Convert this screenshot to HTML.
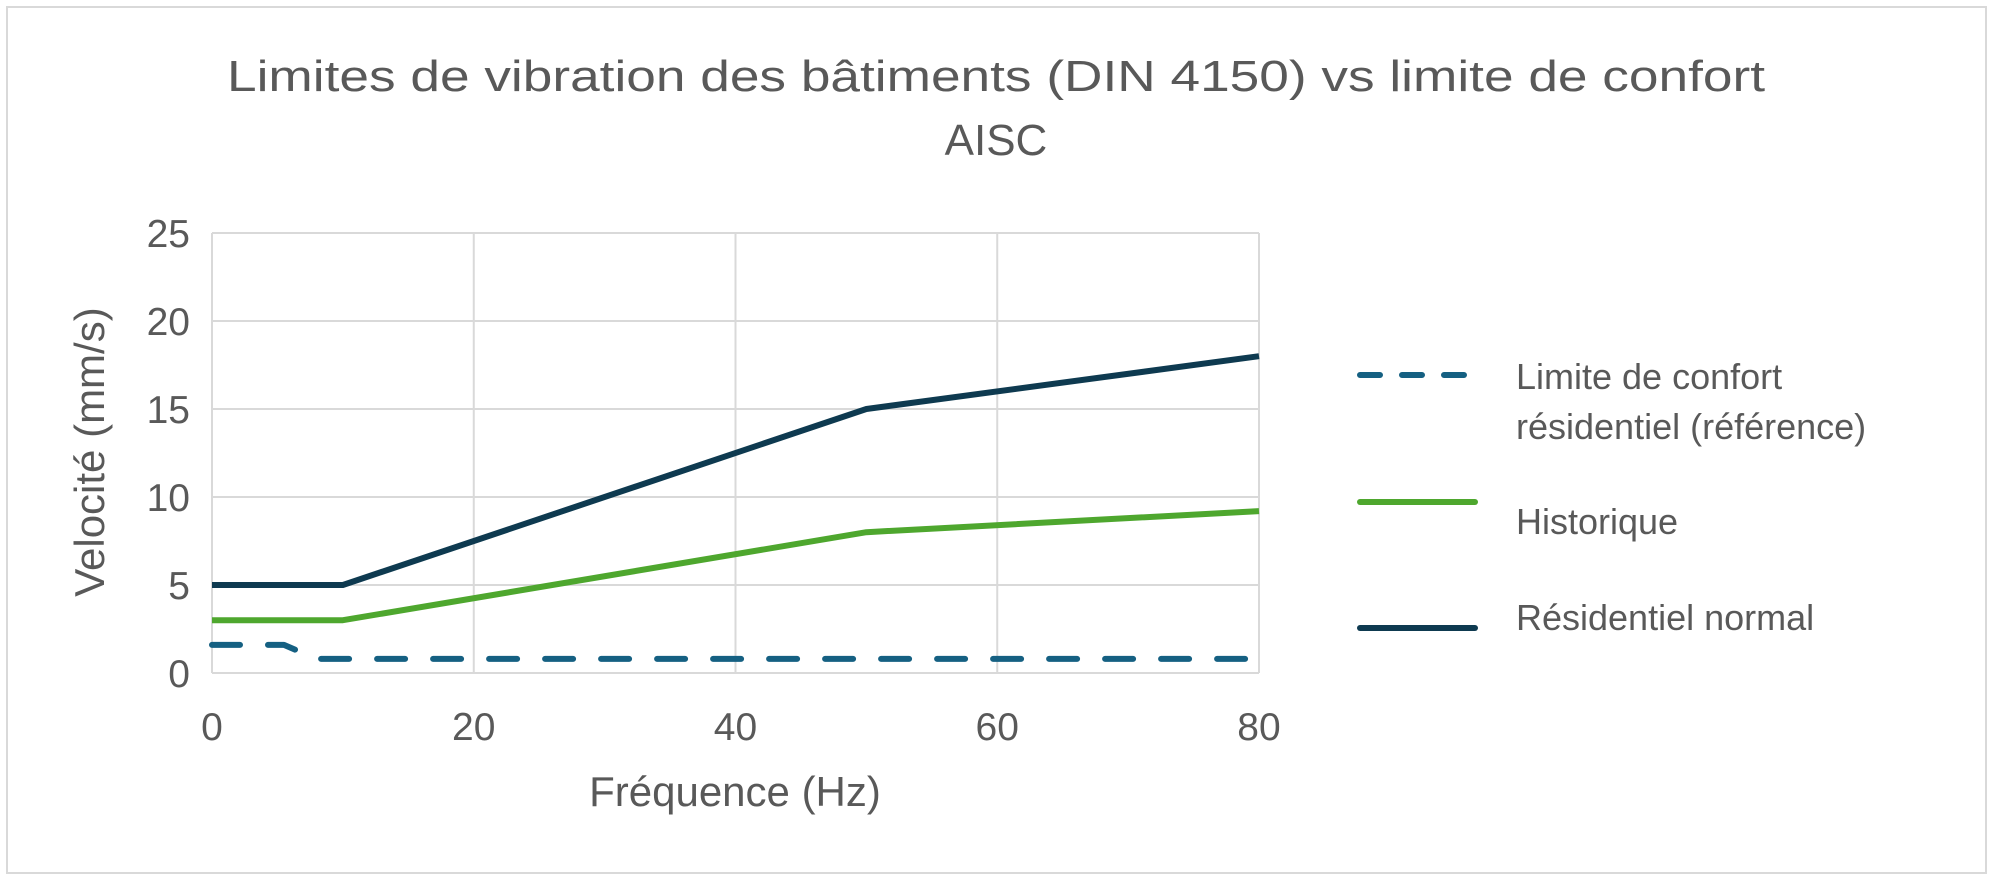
<!DOCTYPE html>
<html><head><meta charset="utf-8">
<style>
html,body{margin:0;padding:0;background:#fff;}
svg{display:block;font-family:"Liberation Sans",sans-serif;}
</style></head>
<body>
<svg id="chart" width="1993" height="880" viewBox="0 0 1993 880" xmlns="http://www.w3.org/2000/svg">
<rect x="7" y="7" width="1979" height="866" fill="#fff" stroke="#d9d9d9" stroke-width="2"/>
<text x="996" y="91" text-anchor="middle" font-size="44" fill="#595959" textLength="1538" lengthAdjust="spacingAndGlyphs">Limites de vibration des bâtiments (DIN 4150) vs limite de confort</text>
<text x="996" y="155" text-anchor="middle" font-size="44" fill="#595959">AISC</text>
<g id="grid"></g>
<g id="series"></g>
<g id="ticks"></g>
<text transform="translate(104,452) rotate(-90)" text-anchor="middle" font-size="42" fill="#595959">Velocité (mm/s)</text>
<text x="735" y="806" text-anchor="middle" font-size="42" fill="#595959">Fréquence (Hz)</text>
<g>
  <g>
    <line x1="1360" y1="375" x2="1475" y2="375" stroke="#156082" stroke-width="6" stroke-linecap="round" stroke-dasharray="20,22"/>
    <text x="1516" y="389" font-size="36" fill="#595959">Limite de confort</text>
    <text x="1516" y="439" font-size="36" fill="#595959">résidentiel (référence)</text>
  </g>
  <g>
    <line x1="1360" y1="502" x2="1475" y2="502" stroke="#4ea72e" stroke-width="6" stroke-linecap="round"/>
    <text x="1516" y="534" font-size="36" fill="#595959">Historique</text>
  </g>
  <g>
    <line x1="1360" y1="628" x2="1475" y2="628" stroke="#0e3a50" stroke-width="6" stroke-linecap="round"/>
    <text x="1516" y="630" font-size="36" fill="#595959">Résidentiel normal</text>
  </g>
</g>
</svg>
<script>
const xTicks = [0, 20, 40, 60, 80];
const yTicks = [0, 5, 10, 15, 20, 25];
const confortX = [0, 5.5, 8, 80];
const confortY = [1.6, 1.6, 0.8, 0.8];
const historiqueX = [0, 10, 50, 80];
const historiqueY = [3, 3, 8, 9.2];
const residentielX = [0, 10, 50, 80];
const residentielY = [5, 5, 15, 18];

const NS = "http://www.w3.org/2000/svg";
const L = 212, R = 1259, T = 233, B = 673;
const xs = v => L + (v - 0) / 80 * (R - L);
const ys = v => B - (v - 0) / 25 * (B - T);
function mk(tag, attrs, parent) {
  const e = document.createElementNS(NS, tag);
  for (const k in attrs) e.setAttribute(k, attrs[k]);
  parent.appendChild(e);
  return e;
}
const grid = document.getElementById('grid');
const ticks = document.getElementById('ticks');
const series = document.getElementById('series');
yTicks.forEach(v => {
  const g = mk('line', {x1: L, x2: R, y1: ys(v), y2: ys(v), stroke: '#d9d9d9', 'stroke-width': 2}, grid);
  
  
  const t = mk('text', {x: 190, y: ys(v) + 14, 'text-anchor': 'end', 'font-size': 39, fill: '#595959'}, ticks);
  t.textContent = v;
  
  
});
xTicks.forEach(v => {
  const g = mk('line', {x1: xs(v), x2: xs(v), y1: T, y2: B, stroke: '#d9d9d9', 'stroke-width': 2}, grid);
  
  
  const t = mk('text', {x: xs(v), y: 740, 'text-anchor': 'middle', 'font-size': 39, fill: '#595959'}, ticks);
  t.textContent = v;
  
  
});
function line(xsArr, ysArr, color, dash, name) {
  const pts = xsArr.map((x, i) => xs(x) + ',' + ys(ysArr[i])).join(' ');
  const attrs = {points: pts, fill: 'none', stroke: color, 'stroke-width': 6, 'stroke-linejoin': 'round'};
  if (dash) { attrs['stroke-dasharray'] = '28,28'; attrs['stroke-linecap'] = 'round'; }
  const p = mk('polyline', attrs, series);
  
  
}
line(historiqueX, historiqueY, '#4ea72e', false, 'series-historique');
line(residentielX, residentielY, '#0e3a50', false, 'series-residentiel-normal');
line(confortX, confortY, '#156082', true, 'series-limite-confort');
</script>
</body></html>
